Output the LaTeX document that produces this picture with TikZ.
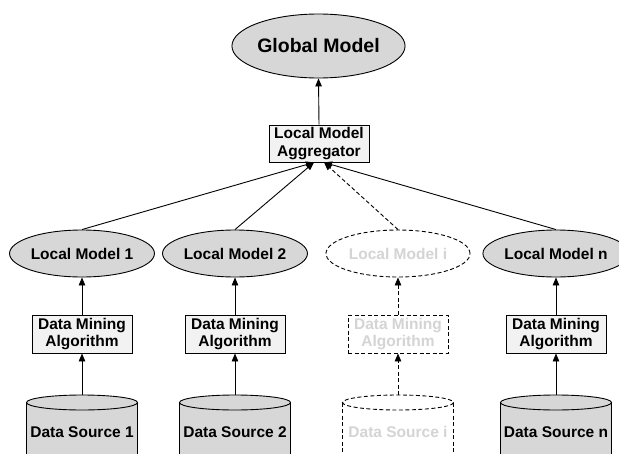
\documentclass[tikz,border=0pt]{standalone}
\usepackage{fontspec}
\setmainfont{Liberation Sans}
\usetikzlibrary{arrows.meta,shapes.geometric}
\definecolor{ellgray}{RGB}{215,215,215}
\definecolor{boxgray}{RGB}{242,242,242}
\definecolor{ghost}{RGB}{212,212,212}
\begin{document}
\begin{tikzpicture}[x=1pt,y=-1pt,line width=0.9pt,
  lbl/.style={font=\fontsize{15.5}{17.5}\selectfont\bfseries, align=center},
  model/.style={ellipse, draw, fill=ellgray, minimum width=144pt, minimum height=47pt, inner sep=0pt, lbl},
  algo/.style={rectangle, draw, fill=boxgray, minimum width=100pt, minimum height=38pt, inner sep=0pt, lbl},
  ghostly/.style={dash pattern=on 4pt off 2.5pt, fill=white, text=ghost},
  conn/.style={draw, -{Triangle[length=8pt,width=6.5pt]}},
  dconn/.style={conn, dash pattern=on 4pt off 2.5pt},
  cylfill/.style={fill=ellgray},
  cylghost/.style={fill=white, dash pattern=on 4pt off 2.5pt},
]
\useasboundingbox (0,0) rectangle (619,453);
\clip (0,0) rectangle (619,453);

% global model and aggregator
\node[ellipse, draw, fill=ellgray, minimum width=153pt, minimum height=64pt, inner sep=0pt,
      font=\fontsize{19.5}{22}\selectfont\bfseries] (gm) at (318.5,46) {Global Model};
\node[algo, minimum height=37pt] (agg) at (319,143.5) {Local Model\\Aggregator};
\coordinate (aggL) at ([xshift=-5pt]agg.south);
\coordinate (aggR) at ([xshift=5pt]agg.south);

% local models
\node[model] (lm1) at (82,253.5) {Local Model 1};
\node[model] (lm2) at (235,253.5) {Local Model 2};
\node[model, ghostly] (lmi) at (398,253.5) {Local Model i};
\node[model] (lmn) at (556,253.5) {Local Model n};

% data mining algorithms
\node[algo] (dm1) at (82,334) {Data Mining\\Algorithm};
\node[algo] (dm2) at (235,334) {Data Mining\\Algorithm};
\node[algo, ghostly] (dmi) at (398,334) {Data Mining\\Algorithm};
\node[algo] (dmn) at (556,334) {Data Mining\\Algorithm};

% data sources (cylinders)
\foreach \cx/\nm/\txt/\st/\tc in {82/ds1/Data Source 1/cylfill/black, 235/ds2/Data Source 2/cylfill/black, 398/dsi/Data Source i/cylghost/ghost, 556/dsn/Data Source n/cylfill/black}{
  \path[\st, draw=none] (\cx-55.5,402.5) rectangle (\cx+55.5,460);
  \draw[\st, fill=none] (\cx-55.5,402.5) -- (\cx-55.5,460) (\cx+55.5,402.5) -- (\cx+55.5,460);
  \draw[\st] (\cx,402.5) ellipse [x radius=55.5, y radius=7.5];
  \node[lbl, text=\tc] (\nm) at (\cx,432) {\txt};
  \coordinate (\nm-top) at (\cx,395);
}

% connectors
\draw[conn] (agg.north) -- (gm.south);
\draw[conn] (lm1.north) -- (aggL);
\draw[conn] (lm2.north) -- (aggL);
\draw[dconn] (lmi.north) -- (aggR);
\draw[conn] (lmn.north) -- (aggR);

\draw[conn] (dm1.north) -- (lm1.south);
\draw[conn] (dm2.north) -- (lm2.south);
\draw[dconn] (dmi.north) -- (lmi.south);
\draw[conn] (dmn.north) -- (lmn.south);

\draw[conn] (ds1-top) -- (dm1.south);
\draw[conn] (ds2-top) -- (dm2.south);
\draw[dconn] (dsi-top) -- (dmi.south);
\draw[conn] (dsn-top) -- (dmn.south);
\end{tikzpicture}
\end{document}
